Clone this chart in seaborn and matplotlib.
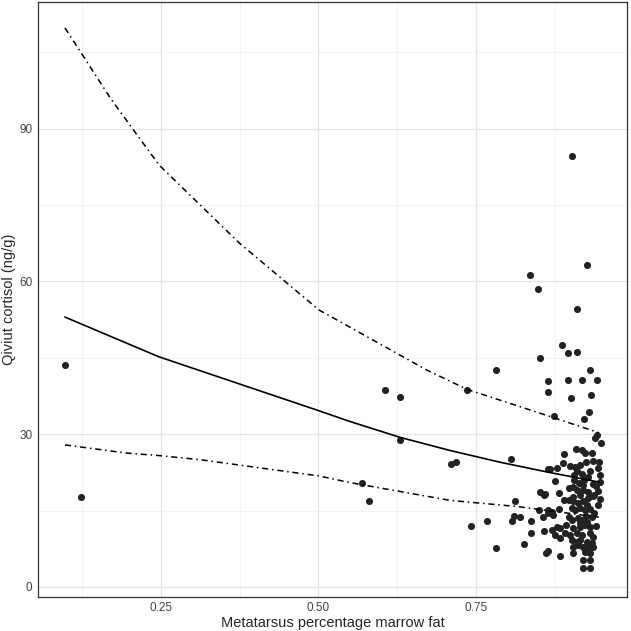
import matplotlib
matplotlib.use("Agg")
import matplotlib.pyplot as plt
import seaborn as sns
import pandas as pd
from matplotlib.ticker import MultipleLocator

# observed points: metatarsus marrow fat vs qiviut cortisol
fat = [0.098, 0.123,
       0.569, 0.580, 0.606, 0.629, 0.630, 0.711, 0.718, 0.736, 0.742, 0.767, 0.782, 0.782,
       0.805, 0.807, 0.811, 0.812, 0.820, 0.827, 0.836, 0.837, 0.838, 0.849, 0.850, 0.851,
       0.852, 0.857, 0.858, 0.858, 0.860, 0.861, 0.864, 0.864, 0.864, 0.864, 0.865, 0.865,
       0.874, 0.887, 0.896, 0.896, 0.901, 0.903, 0.910, 0.911, 0.919, 0.921, 0.926, 0.929,
       0.931, 0.933, 0.939, 0.942, 0.942, 0.948,
       0.890, 0.908, 0.918, 0.923, 0.934, 0.945, 0.888, 0.867, 0.878, 0.900, 0.907, 0.915,
       0.925, 0.944, 0.931, 0.906, 0.918, 0.875, 0.906, 0.947, 0.947, 0.941, 0.897, 0.904,
       0.910, 0.920, 0.928, 0.881, 0.904, 0.915, 0.944, 0.947, 0.889, 0.904, 0.912, 0.920,
       0.928, 0.944, 0.915, 0.923, 0.931, 0.902, 0.907, 0.871, 0.881, 0.934, 0.872, 0.897,
       0.902, 0.918, 0.926, 0.878, 0.883, 0.893, 0.870, 0.904, 0.915, 0.923, 0.931, 0.891,
       0.899, 0.875, 0.883, 0.910, 0.918, 0.931, 0.936, 0.902, 0.910, 0.915, 0.926, 0.934,
       0.904, 0.912, 0.920, 0.928, 0.936, 0.883, 0.904, 0.923, 0.931, 0.920, 0.931, 0.920,
       0.931,
       0.913, 0.922, 0.935, 0.925, 0.912, 0.938, 0.915, 0.940, 0.935, 0.928, 0.898, 0.910,
       0.935, 0.920, 0.926, 0.938]
cortisol = [43.6, 17.7,
            20.4, 16.8, 38.6, 37.3, 28.9, 24.2, 24.6, 38.6, 12.0, 13.0, 42.6, 7.6,
            25.1, 13.0, 13.9, 16.8, 13.8, 8.4, 61.3, 13.0, 10.5, 58.6, 15.1, 18.7,
            44.9, 13.7, 18.0, 10.9, 18.3, 6.6, 7.0, 40.5, 38.2, 15.1, 14.6, 23.2,
            33.5, 47.6, 46.0, 40.6, 37.1, 84.7, 46.2, 54.5, 40.7, 32.9, 63.3, 34.3,
            42.6, 37.6, 29.3, 29.8, 40.6, 28.3,
            26.1, 27.0, 26.8, 26.3, 26.3, 24.6, 24.3, 23.2, 23.3, 23.8, 23.6, 24.0,
            24.6, 23.3, 22.7, 22.0, 22.2, 20.8, 21.0, 21.9, 20.6, 19.8, 19.4, 19.7,
            19.1, 19.1, 18.7, 18.4, 17.7, 18.1, 18.9, 17.3, 17.0, 16.8, 16.4, 16.8,
            17.4, 16.1, 15.5, 15.1, 15.3, 15.5, 15.1, 14.8, 15.3, 13.8, 14.1, 13.8,
            13.2, 13.2, 12.8, 11.8, 11.5, 12.2, 11.2, 11.5, 11.8, 12.2, 11.8, 10.5,
            10.2, 10.2, 9.6, 10.5, 10.2, 10.5, 9.9, 9.2, 8.9, 9.2, 8.9, 8.6,
            7.9, 8.3, 7.9, 7.6, 7.9, 6.0, 6.6, 6.9, 6.6, 5.3, 5.3, 3.7,
            3.7,
            20.5, 21.0, 20.2, 14.0, 13.5, 14.5, 12.5, 12.0, 17.8, 21.5, 17.0, 22.8,
            24.8, 20.0, 16.0, 18.0]

# fitted curve and interval bounds
fit_x = [0.098, 0.247, 0.501, 0.550, 0.629, 0.709, 0.788, 0.862, 0.945]
fit_y = [53.0, 45.2, 34.6, 32.5, 29.4, 26.8, 24.5, 22.6, 20.6]
upper_x = [0.098, 0.170, 0.247, 0.375, 0.501, 0.672, 0.736, 0.867, 0.945]
upper_y = [109.8, 96.0, 82.9, 67.5, 54.4, 42.6, 38.8, 33.5, 30.3]
lower_x = [0.098, 0.195, 0.247, 0.312, 0.501, 0.550, 0.709, 0.815, 0.846, 0.945]
lower_y = [27.9, 26.3, 25.8, 25.0, 21.8, 20.5, 17.0, 15.8, 15.3, 13.7]

points = pd.DataFrame({"fat": fat, "cortisol": cortisol})
fit = pd.DataFrame({"x": fit_x, "y": fit_y})
upper = pd.DataFrame({"x": upper_x, "y": upper_y})
lower = pd.DataFrame({"x": lower_x, "y": lower_y})

sns.set_style("white")
plt.rcParams["font.family"] = ["Liberation Sans", "DejaVu Sans"]

fig = plt.figure(figsize=(6.31, 6.31), dpi=100)
ax = fig.add_axes([0.060, 0.054, 0.934, 0.943])

sns.scatterplot(data=points, x="fat", y="cortisol", ax=ax, color="#222222",
                s=26, linewidth=0, zorder=3)
sns.lineplot(data=fit, x="x", y="y", ax=ax, color="black", linewidth=1.2,
             estimator=None, sort=False, zorder=4)
sns.lineplot(data=upper, x="x", y="y", ax=ax, color="black", linewidth=1.1,
             estimator=None, sort=False, zorder=4, linestyle=(0, (4, 2.5, 1, 2.5)))
sns.lineplot(data=lower, x="x", y="y", ax=ax, color="black", linewidth=1.1,
             estimator=None, sort=False, zorder=4, linestyle=(0, (4, 2.5, 1, 2.5)))

ax.set_xlim(0.055, 0.990)
ax.set_ylim(-1.96, 114.9)
ax.set_xticks([0.25, 0.50, 0.75])
ax.set_xticklabels(["0.25", "0.50", "0.75"])
ax.set_yticks([0, 30, 60, 90])
ax.xaxis.set_minor_locator(MultipleLocator(0.125))
ax.yaxis.set_minor_locator(MultipleLocator(15))

ax.grid(True, which="major", color="#e3e3e3", linewidth=0.9)
ax.grid(True, which="minor", color="#eeeeee", linewidth=0.5)
ax.set_axisbelow(True)
ax.tick_params(which="major", length=2.5, width=0.8, color="#333333",
               labelsize=8.5, labelcolor="#444444", pad=1.5)
ax.tick_params(which="minor", length=0)
for sp in ax.spines.values():
    sp.set_color("#333333")
    sp.set_linewidth(0.9)

ax.set_xlabel("Metatarsus percentage marrow fat", fontsize=10.5, labelpad=1)
ax.set_ylabel("Qiviut cortisol (ng/g)", fontsize=10.5, labelpad=2)

fig.savefig("out.png", dpi=100)
